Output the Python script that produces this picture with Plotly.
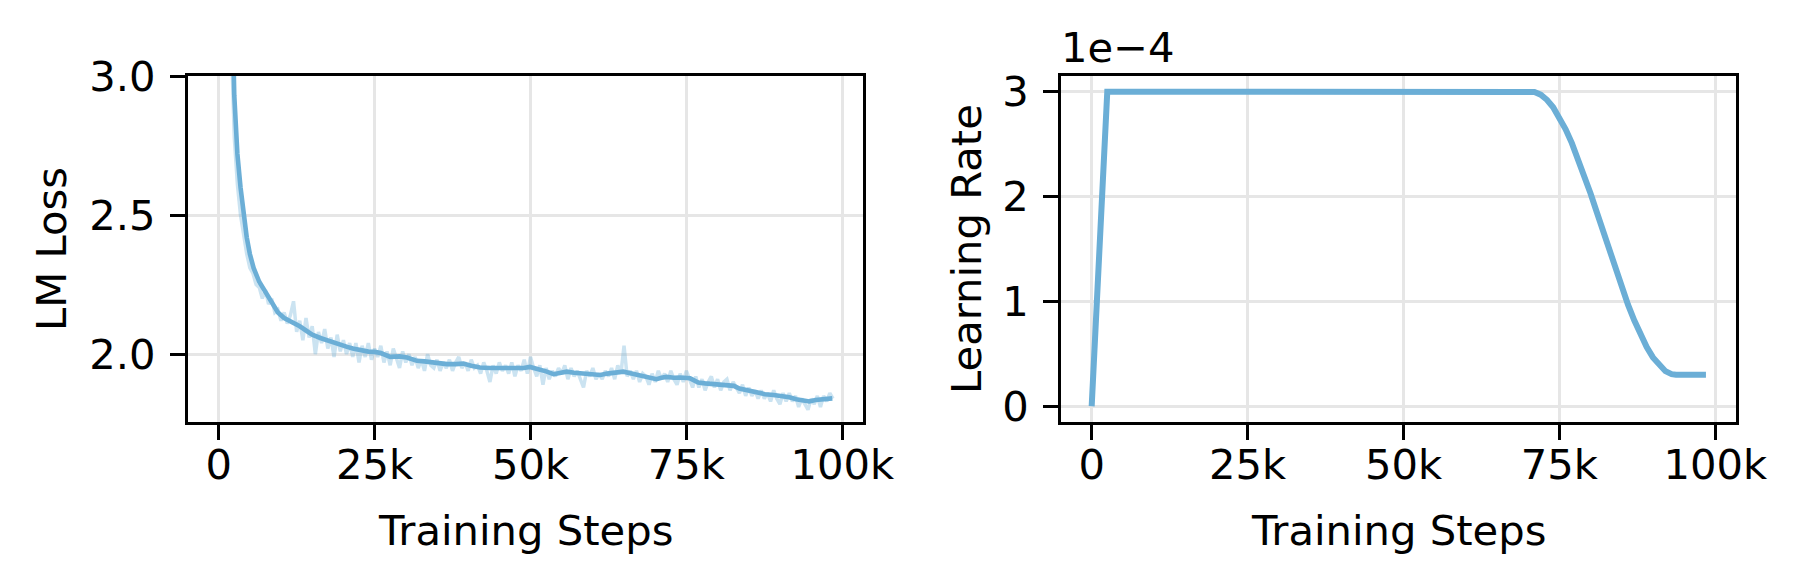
import plotly.graph_objects as go

# ---------------- data ----------------
loss_smooth_steps = [1000, 1500, 2000, 2500, 3000, 3500, 4000, 4500, 5000, 5600, 6500, 7500, 8500,
                     9500, 10500, 12000, 13000, 14000, 15000, 16300, 17500, 18500, 19500, 20600,
                     21500, 22700, 24000, 25000, 26000, 27500, 29000, 30200, 31800, 33000, 34400,
                     35500, 36600, 38000, 39200, 40500, 41900, 43500, 44600, 46200, 47500, 48900,
                     49900, 51500, 52500, 53700, 55000, 55800, 57000, 58500, 60000, 61200, 62300,
                     63300, 64900, 66200, 67600, 69000, 70200, 71000, 71800, 73000, 74000, 75600,
                     76900, 78000, 79500, 80400, 81500, 82600, 83500, 84700, 86000, 87600, 89000,
                     90400, 91500, 92600, 93700, 94700, 95700, 96800, 97600, 98400]
loss_smooth = [5.2, 4.3, 3.45, 2.93, 2.72, 2.60, 2.50, 2.42, 2.36, 2.31, 2.26, 2.225, 2.19,
               2.15, 2.13, 2.113, 2.10, 2.085, 2.07, 2.058, 2.048, 2.042, 2.034, 2.026,
               2.02, 2.014, 2.009, 2.008, 2.004, 1.99, 1.992, 1.988, 1.976, 1.974, 1.97,
               1.968, 1.964, 1.964, 1.966, 1.958, 1.952, 1.950, 1.950, 1.946, 1.949, 1.950,
               1.954, 1.946, 1.938, 1.928, 1.934, 1.937, 1.933, 1.930, 1.928, 1.925, 1.930,
               1.934, 1.937, 1.930, 1.922, 1.915, 1.910, 1.915, 1.918, 1.915, 1.916, 1.913,
               1.898, 1.895, 1.892, 1.889, 1.890, 1.886, 1.876, 1.869, 1.862, 1.856, 1.853,
               1.850, 1.845, 1.838, 1.832, 1.830, 1.835, 1.838, 1.838, 1.841]

loss_raw_steps = list(range(1500, 99000, 500))
loss_raw = [
    3.90, 3.15, 2.78, 2.61, 2.50, 2.43, 2.36, 2.31, 2.29, 2.25,
    2.24, 2.20, 2.23, 2.18, 2.20, 2.15, 2.16, 2.12, 2.15, 2.11,
    2.14, 2.19, 2.08, 2.12, 2.05, 2.13, 2.06, 2.10, 2.00, 2.08,
    2.04, 2.09, 2.02, 2.06, 1.99, 2.07, 2.01, 2.05, 2.00, 2.04,
    1.99, 2.04, 1.97, 2.03, 1.99, 2.04, 1.98, 2.02, 1.99, 2.03,
    1.97, 2.01, 1.96, 2.02, 1.98, 1.95, 2.01, 1.97, 2.00, 1.96,
    1.99, 1.95, 1.98, 1.94, 2.00, 1.96, 1.95, 1.98, 1.94, 1.97,
    1.95, 1.98, 1.94, 1.97, 1.99, 1.95, 1.97, 1.94, 1.98, 1.95,
    1.96, 1.93, 1.97, 1.94, 1.90, 1.96, 1.93, 1.97, 1.94, 1.96,
    1.93, 1.97, 1.92, 1.96, 1.94, 1.98, 1.93, 1.99, 1.95, 1.92,
    1.96, 1.89, 1.95, 1.91, 1.94, 1.92, 1.95, 1.93, 1.96, 1.91,
    1.95, 1.92, 1.94, 1.91, 1.88, 1.94, 1.92, 1.95, 1.91, 1.93,
    1.91, 1.94, 1.92, 1.95, 1.91, 1.96, 1.93, 2.03, 1.92, 1.94,
    1.91, 1.94, 1.90, 1.93, 1.92, 1.89, 1.93, 1.90, 1.94, 1.91,
    1.93, 1.90, 1.94, 1.91, 1.89, 1.93, 1.90, 1.94, 1.91, 1.88,
    1.92, 1.88, 1.91, 1.87, 1.90, 1.92, 1.88, 1.91, 1.87, 1.90,
    1.91, 1.87, 1.90, 1.88, 1.86, 1.89, 1.85, 1.88, 1.85, 1.87,
    1.84, 1.87, 1.84, 1.86, 1.83, 1.87, 1.84, 1.82, 1.86, 1.83,
    1.86, 1.83, 1.85, 1.81, 1.84, 1.82, 1.80, 1.84, 1.82, 1.85,
    1.81, 1.85, 1.83, 1.86, 1.84,
]

lr_steps = [0, 2500, 10000, 20000, 30000, 40000, 50000, 60000, 70000, 70500,
            71000, 72000, 73000, 74000, 75000, 76000, 77000, 78000, 79000, 80000,
            81000, 82000, 83000, 84000, 85000, 86000, 87000, 88000, 89000, 90000,
            91000, 92000, 93000, 93700, 96000, 98500]
lr_e4 = [0.0, 3.0, 3.0, 3.0, 3.0, 3.0, 3.0, 3.0, 3.0, 3.0,
         2.997, 2.972, 2.923, 2.852, 2.757, 2.642, 2.510, 2.361, 2.201, 2.029,
         1.850, 1.668, 1.485, 1.306, 1.133, 0.969, 0.820, 0.683, 0.565, 0.466,
         0.389, 0.335, 0.306, 0.300, 0.300, 0.300]

x_tickvals = [0, 25000, 50000, 75000, 100000]
x_ticktext = ["0", "25k", "50k", "75k", "100k"]
loss_tickvals = [2.0, 2.5, 3.0]
loss_ticktext = ["2.0", "2.5", "3.0"]
lr_tickvals = [0, 1, 2, 3]
lr_ticktext = ["0", "1", "2", "3"]

# ---------------- styling ----------------
W, H = 1800, 585
FONT = "DejaVu Sans"
FS = 41.7
BLUE = "#6baed6"

def px_x(p):
    return p / W

def px_y(p):
    return 1 - p / H

fig = go.Figure()
fig.add_trace(go.Scatter(x=loss_raw_steps, y=loss_raw, mode="lines",
                         line=dict(color="rgba(107,174,214,0.35)", width=3.5),
                         xaxis="x", yaxis="y", hoverinfo="skip"))
fig.add_trace(go.Scatter(x=loss_smooth_steps, y=loss_smooth, mode="lines",
                         line=dict(color=BLUE, width=4.6),
                         xaxis="x", yaxis="y", hoverinfo="skip"))
fig.add_trace(go.Scatter(x=lr_steps, y=lr_e4, mode="lines",
                         line=dict(color=BLUE, width=6),
                         xaxis="x2", yaxis="y2", hoverinfo="skip"))

common = dict(showline=True, linecolor="black", linewidth=3, mirror=True,
              ticks="outside", ticklen=15, tickwidth=3, tickcolor="black",
              showgrid=True, gridcolor="#e6e6e6", gridwidth=3, zeroline=False,
              tickfont=dict(family=FONT, size=FS, color="black"),
              automargin=False)

ydom = [px_y(422), px_y(76)]
fig.update_layout(
    width=W, height=H, margin=dict(l=0, r=0, t=0, b=0, pad=0),
    plot_bgcolor="white", paper_bgcolor="white", showlegend=False,
    xaxis=dict(domain=[px_x(188), px_x(863)], range=[-4920, 103320], anchor="y",
               tickvals=x_tickvals, ticktext=x_ticktext, ticklabelstandoff=-11, **common),
    yaxis=dict(domain=ydom, range=[1.756, 3.0], anchor="x",
               tickvals=loss_tickvals, ticktext=loss_ticktext, ticklabelstandoff=6, **common),
    xaxis2=dict(domain=[px_x(1061), px_x(1736)], range=[-4920, 103320], anchor="y2",
                tickvals=x_tickvals, ticktext=x_ticktext, ticklabelstandoff=-11, **common),
    yaxis2=dict(domain=ydom, range=[-0.15, 3.15], anchor="x2",
                tickvals=lr_tickvals, ticktext=lr_ticktext, ticklabelstandoff=6, **common),
)

tf = dict(family=FONT, size=FS, color="black")
anns = [
    dict(text="LM Loss", x=px_x(51), y=px_y(249), textangle=-90),
    dict(text="Learning Rate", x=px_x(966), y=px_y(249), textangle=-90),
    dict(text="Training Steps", x=px_x(525.5), y=px_y(530)),
    dict(text="Training Steps", x=px_x(1398.5), y=px_y(530)),
]
for a in anns:
    fig.add_annotation(xref="paper", yref="paper", showarrow=False, font=tf,
                       xanchor="center", yanchor="middle", **a)
fig.add_annotation(text="1e\u22124", xref="paper", yref="paper", x=px_x(1059), y=px_y(47),
                   xanchor="left", yanchor="middle", showarrow=False, font=tf)

fig.write_html("out.html")
